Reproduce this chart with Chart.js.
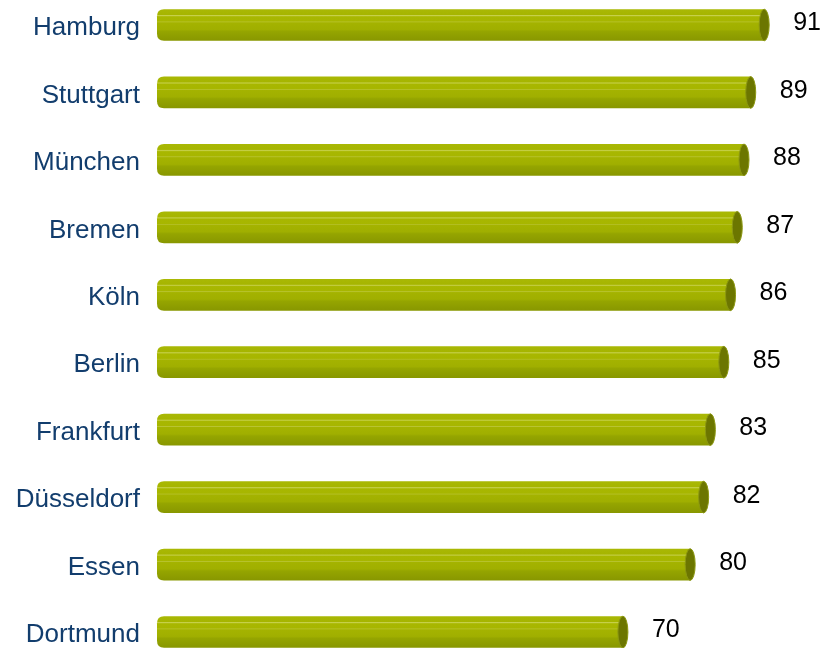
<!DOCTYPE html>
<html lang="de">
<head>
    <meta charset="UTF-8">
    <title>Städte</title>
    <script src="https://cdn.jsdelivr.net/npm/chart.js"></script>
    <style>
        html, body { margin: 0; padding: 0; background: #fff; }
        #wrap { width: 823px; height: 648px; }
    </style>
</head>
<body>
    <div id="wrap"><canvas id="cityChart"></canvas></div>

    <script>
        // Data
        const cities = ['Hamburg', 'Stuttgart', 'München', 'Bremen', 'Köln', 'Berlin', 'Frankfurt', 'Düsseldorf', 'Essen', 'Dortmund'];
        const scores = [91, 89, 88, 87, 86, 85, 83, 82, 80, 70];

        const FONT = '"Liberation Sans", Arial, sans-serif';

        // Draws each bar as a little cylinder, using the element positions from Chart.js
        const cylinderBars = {
            id: 'cylinderBars',
            afterDatasetsDraw(chart) {
                const ctx = chart.ctx;
                const meta = chart.getDatasetMeta(0);
                meta.data.forEach((bar, i) => {
                    const h = bar.height;
                    const top = bar.y - h / 2;
                    const left = bar.base;
                    const right = bar.x;
                    const r = h / 2;
                    const capW = 5;

                    const g = ctx.createLinearGradient(0, top, 0, top + h);
                    g.addColorStop(0, '#a9b805');
                    g.addColorStop(0.17, '#a6b500');
                    g.addColorStop(0.2, '#c6d04a');
                    g.addColorStop(0.24, '#a8b700');
                    g.addColorStop(0.38, '#a7b600');
                    g.addColorStop(0.4, '#b9c432');
                    g.addColorStop(0.43, '#a4b300');
                    g.addColorStop(0.64, '#a0af00');
                    g.addColorStop(0.7, '#95a500');
                    g.addColorStop(1, '#889700');

                    ctx.save();
                    ctx.beginPath();
                    ctx.moveTo(left + 7, top);
                    ctx.lineTo(right - capW, top);
                    ctx.lineTo(right - capW, top + h);
                    ctx.lineTo(left + 7, top + h);
                    ctx.quadraticCurveTo(left, top + h, left, top + h - 7);
                    ctx.lineTo(left, top + 7);
                    ctx.quadraticCurveTo(left, top, left + 7, top);
                    ctx.closePath();
                    ctx.fillStyle = g;
                    ctx.fill();

                    // end cap
                    ctx.beginPath();
                    ctx.ellipse(right - capW, bar.y, capW, r, 0, 0, Math.PI * 2);
                    ctx.fillStyle = '#6c7600';
                    ctx.fill();
                    ctx.lineWidth = 1;
                    ctx.strokeStyle = '#8c9812';
                    ctx.stroke();

                    // value label
                    ctx.fillStyle = '#000';
                    ctx.font = '25px ' + FONT;
                    ctx.textAlign = 'left';
                    ctx.textBaseline = 'middle';
                    ctx.fillText(String(scores[i]), right + 24, bar.y - 1.5);
                    ctx.restore();
                });
            }
        };

        // City names, placed on the y scale's own tick positions
        const cityLabels = {
            id: 'cityLabels',
            afterDraw(chart) {
                const ctx = chart.ctx;
                const y = chart.scales.y;
                ctx.save();
                ctx.fillStyle = '#123d6d';
                ctx.font = '26px ' + FONT;
                ctx.textAlign = 'right';
                ctx.textBaseline = 'middle';
                cities.forEach((c, i) => {
                    ctx.fillText(c, y.right - 17, y.getPixelForTick(i) + 3);
                });
                ctx.restore();
            }
        };

        new Chart(document.getElementById('cityChart'), {
            type: 'bar',
            data: {
                labels: cities,
                datasets: [{
                    data: scores,
                    backgroundColor: 'rgba(0,0,0,0)',
                    borderWidth: 0,
                    barPercentage: 0.47,
                    categoryPercentage: 1
                }]
            },
            options: {
                indexAxis: 'y',
                responsive: true,
                maintainAspectRatio: false,
                animation: false,
                layout: { padding: { top: 25, bottom: 16, left: 0, right: 0 } },
                scales: {
                    x: {
                        display: false,
                        min: 0,
                        max: 99
                    },
                    y: {
                        offset: false,
                        grid: { display: false, drawTicks: false },
                        border: { display: false },
                        ticks: { display: false },
                        afterFit(scale) {
                            scale.width = 157;
                            scale.paddingTop = 0;
                            scale.paddingBottom = 0;
                        }
                    }
                },
                plugins: {
                    legend: { display: false },
                    tooltip: { enabled: false }
                }
            },
            plugins: [cylinderBars, cityLabels]
        });
    </script>
</body>
</html>
